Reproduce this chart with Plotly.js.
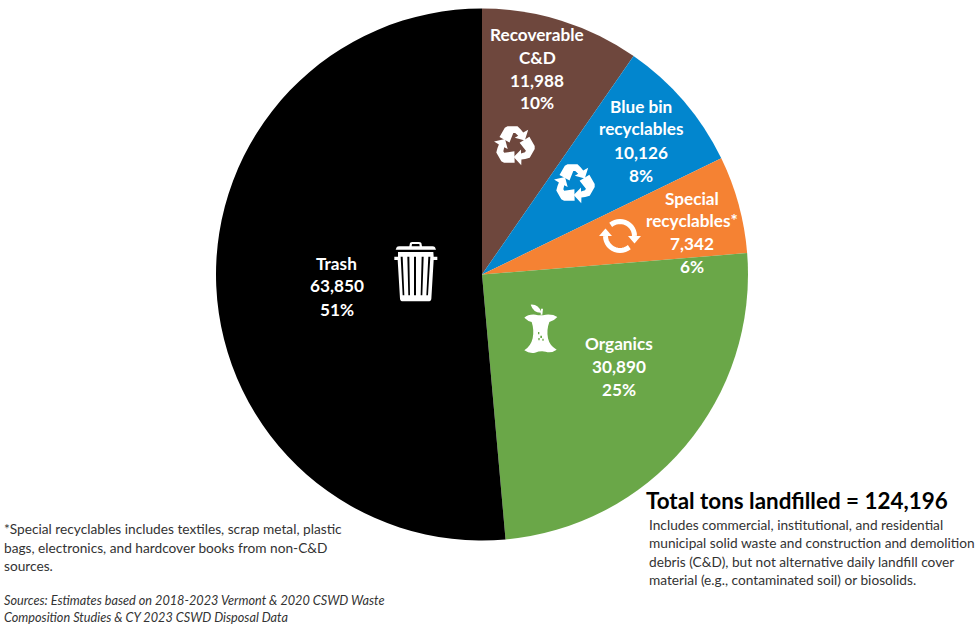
<!DOCTYPE html>
<html>
<head>
<meta charset="utf-8">
<title>Landfilled waste by category</title>
<script src="https://cdn.plot.ly/plotly-3.0.1.min.js"></script>
<style>
  html, body { margin: 0; padding: 0; background: #fff; }
  #chart { width: 979px; height: 624px; }
</style>
</head>
<body>
<div id="chart"></div>
<script>
// Waste stream categories, clockwise from twelve o'clock
const categories = ['Recoverable C&D', 'Blue bin recyclables', 'Special recyclables*', 'Organics', 'Trash'];
const tons = [11988, 10126, 7342, 30890, 63850];
const sliceColors = ['#6E473D', '#0286CE', '#F58233', '#6AA748', '#000000'];

// Wrapped label text for each slice, in the same order
const labelNames = [['Recoverable', 'C&D'], ['Blue bin', 'recyclables'], ['Special', 'recyclables*'], ['Organics'], ['Trash']];

const noteLines = [
  '*Special recyclables includes textiles, scrap metal, plastic',
  'bags, electronics, and hardcover books from non-C&D',
  'sources.'
];
const sourceLines = [
  'Sources: Estimates based on 2018-2023 Vermont & 2020 CSWD Waste',
  'Composition Studies & CY 2023 CSWD Disposal Data'
];
const scopeLines = [
  'Includes commercial, institutional, and residential',
  'municipal solid waste and construction and demolition',
  'debris (C&D), but not alternative daily landfill cover',
  'material (e.g., contaminated soil) or biosolids.'
];

const W = 979, H = 624;
const FONT = 'Lato, Carlito, sans-serif';
const total = tons.reduce((a, b) => a + b, 0);
const fmt = n => n.toLocaleString('en-US');

// Page-pixel helpers: everything outside the pie is placed in paper space
const px = x => x / W;
const py = y => 1 - y / H;

function textAt(text, x, y, opts) {
  return Object.assign({
    text, x: px(x), y: py(y), xref: 'paper', yref: 'paper',
    showarrow: false, xanchor: 'center', yanchor: 'middle', borderpad: 0,
    font: { family: FONT, size: 15, color: '#fff' }
  }, opts);
}

// Slice label blocks: line centres in page pixels
const labelAnchors = [
  { x: 537, y: 34, step: 23 },
  { x: 641, y: 106, step: 23 },
  { x: 692, y: 198, step: 22.7 },
  { x: 619, y: 343, step: 23 },
  { x: 336.5, y: 263, step: 23 }
];

const annotations = [];
categories.forEach((c, i) => {
  const lines = labelNames[i].concat([fmt(tons[i]), Math.round(tons[i] / total * 100) + '%']);
  lines.forEach((line, k) => {
    annotations.push(textAt(line, labelAnchors[i].x, labelAnchors[i].y + k * labelAnchors[i].step, {
      font: { family: FONT, size: 17.2, color: '#fff', weight: 700 }
    }));
  });
});

annotations.push(textAt('Total tons landfilled = ' + fmt(total), 644.5, 500, {
  xanchor: 'left', font: { family: FONT, size: 22.4, color: '#000', weight: 700 }
}));

const bodyFont = { family: FONT, size: 13.7, color: '#333' };
scopeLines.forEach((t, i) => annotations.push(textAt(t, 648, 524.5 + i * 18.3, { xanchor: 'left', font: bodyFont })));
noteLines.forEach((t, i) => annotations.push(textAt(t, 2.5, 528.5 + i * 18.5, { xanchor: 'left', font: bodyFont })));
sourceLines.forEach((t, i) => annotations.push(textAt('<i>' + t + '</i>', 3, 600 + i * 17, { xanchor: 'left', font: { family: FONT, size: 12.7, color: '#333' } })));

// Icons: paths written in a local grid, mapped to paper space
function place(path, ox, oy, s) {
  return path.replace(/(-?[\d.]+),(-?[\d.]+)/g, (m, a, b) =>
    px(ox + a * s).toFixed(5) + ',' + py(oy + b * s).toFixed(5));
}
function iconShape(path, extra) {
  return Object.assign({
    type: 'path', xref: 'paper', yref: 'paper', layer: 'above', path,
    fillcolor: '#fff', fillrule: 'evenodd', line: { width: 0 }
  }, extra);
}

// One bent arrow of the recycling symbol; the other two are rotations of it
const recycleArm = [[-15, -8.5], [-9.7, -17.7], [-7, -19.3], [3, -19.3], [6.3, -16], [8.7, -13], [13.7, -15.7],
  [10.3, -5], [0.3, -7.7], [3.7, -9.7], [0.7, -12.5], [-1.2, -12.5], [-5, -3]];
function recycleShapes(cx, cy) {
  return [0, 120, 240].map(deg => {
    const r = deg * Math.PI / 180;
    const pts = recycleArm.map(([x, y]) =>
      (x * Math.cos(r) - y * Math.sin(r)).toFixed(2) + ',' + (x * Math.sin(r) + y * Math.cos(r)).toFixed(2));
    return iconShape(place('M' + pts.join(' L') + ' Z', cx, cy, 1));
  });
}

// Two curved arrows chasing each other
function refreshShapes(cx, cy, R) {
  const arc = (from, to) => {
    const pts = [];
    for (let a = from; a <= to; a += 10) {
      pts.push((R * Math.cos(a * Math.PI / 180)).toFixed(2) + ',' + (R * Math.sin(a * Math.PI / 180)).toFixed(2));
    }
    return iconShape(place('M' + pts.join(' L'), cx, cy, 1), { fillcolor: 'rgba(0,0,0,0)', line: { width: 5, color: '#fff' } });
  };
  const head = (x, dir) => iconShape(place(
    'M' + (x - 6.5) + ',0 L' + (x + 6.5) + ',0 L' + x + ',' + (dir * 7.5) + ' Z', cx, cy, 1));
  return [arc(-130, 0), arc(50, 180), head(R, 1), head(-R, -1)];
}

const trashBody = 'M24,48 L130,48 L131,62 L142,62 L142,72 L131,72 L124,188 Q123,196 115,196 L39,196 Q31,196 30,188 L23,72 L13,72 L13,62 L24,62 Z ' +
  'M32,62 L38,62 L43,178 L38,178 Z M52,62 L58,62 L60,178 L55,178 Z M72,62 L78,62 L78,178 L72,178 Z ' +
  'M95,62 L101,62 L97,178 L92,178 Z M115,62 L121,62 L114,178 L109,178 Z';
const trashLid = 'M17,41 L20,34 Q22,31 28,31 L58,31 L60,21 Q62,18 68,18 L86,18 Q92,18 94,21 L96,31 L127,31 Q133,31 135,34 L138,41 Z ' +
  'M65,31 L66,24 L88,24 L89,31 Z';
const appleCore = 'M28,53 Q40,42 62,44 Q76,48 92,44 Q114,42 127,51 Q118,62 103,66 Q94,90 99,115 Q104,138 125,149 Q108,161 92,155 Q76,152 60,158 Q42,161 28,151 Q48,138 53,115 Q58,90 50,66 Q38,63 28,53 Z ' +
  'M69,96 L73,96 L73,103 L69,103 Z M76,107 L81,107 L81,114 L76,114 Z M70,114 L74,114 L74,121 L70,121 Z M82,116 L86,116 L86,122 L82,122 Z';
const appleLeaf = 'M47,14 Q70,12 80,38 Q56,40 47,14 Z';
const appleStem = 'M78,26 L84,26 L82,44 L77,44 Z';

const shapes = [
  iconShape(place(trashBody, 390, 236, 1 / 3)),
  iconShape(place(trashLid, 390, 236, 1 / 3)),
  iconShape(place(appleCore, 515, 300, 1 / 3)),
  iconShape(place(appleLeaf, 515, 300, 1 / 3)),
  iconShape(place(appleStem, 515, 300, 1 / 3))
].concat(recycleShapes(514.5, 145.5), recycleShapes(574.5, 183.5), refreshShapes(620, 236, 14.5));

const trace = {
  type: 'pie',
  labels: categories,
  values: tons,
  sort: false,
  direction: 'clockwise',
  rotation: 0,
  textinfo: 'none',
  hoverinfo: 'label+value+percent',
  marker: { colors: sliceColors, line: { width: 0 } },
  domain: { x: [px(216), px(748)], y: [py(540.5), py(8.5)] }
};

const layout = {
  width: W, height: H,
  margin: { l: 0, r: 0, t: 0, b: 0 },
  paper_bgcolor: '#fff',
  showlegend: false,
  annotations, shapes
};

Plotly.newPlot('chart', [trace], layout, { displayModeBar: false });
</script>
</body>
</html>
